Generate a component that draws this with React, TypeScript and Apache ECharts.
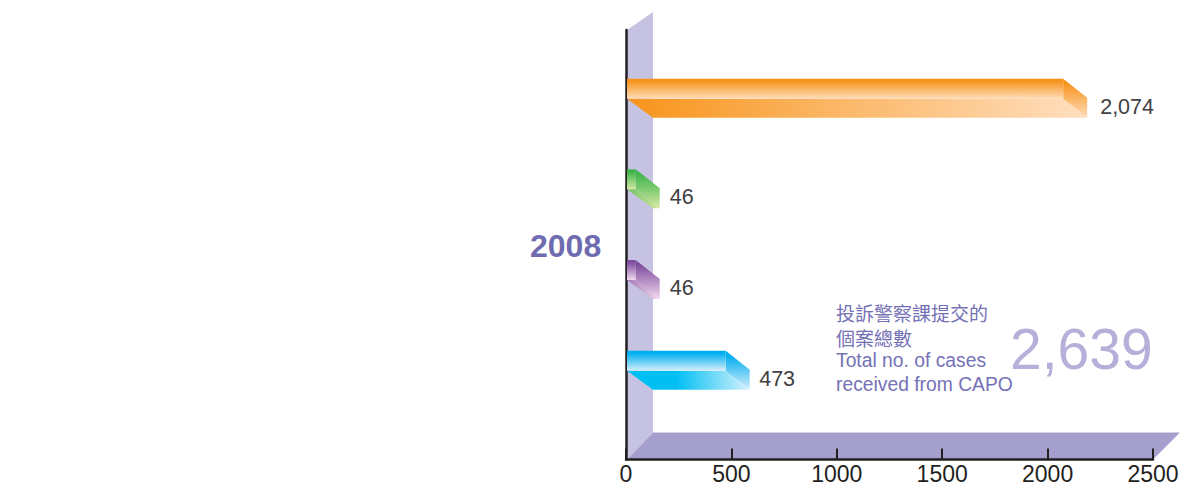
import React, { useEffect, useRef } from "react";
import * as echarts from "echarts";

// Complaint cases by channel, top to bottom
const caseChannels = ["channelA", "channelB", "channelC", "channelD"];
const caseCounts = [2074, 46, 46, 473];
const axisTicks = { min: 0, max: 2500, interval: 500 };
const yearLabel = "2008";
const totalLabel = "2,639";
const captionLines = ["投訴警察課提交的", "個案總數", "Total no. of cases", "received from CAPO"];

type Shade = { top: string; pale: string; under: string; underPale: string; hold: number; gap: number };
const shades: Shade[] = [
  { top: "#f8941d", pale: "#fedcb9", under: "#f8961f", underPale: "#ffdfbf", hold: 0.02, gap: 13 },
  { top: "#3db54a", pale: "#d6e9a6", under: "#6fc05a", underPale: "#d6e9a6", hold: 0, gap: 10 },
  { top: "#7f4c9e", pale: "#f2d9ee", under: "#a478b8", underPale: "#f2d9ee", hold: 0, gap: 10 },
  { top: "#00aeef", pale: "#d3eefb", under: "#00bff3", underPale: "#d6f1fc", hold: 0.4, gap: 9.5 },
];

const AXIS_INK = "#231f20";
const WALL = "#c6c3e2";
const FLOOR = "#a59fce";
const BODY = '"Liberation Sans", Arial, sans-serif';
const CJK = '"Noto Sans CJK TC", "Liberation Sans", sans-serif';

// Oblique offsets of the extruded look
const WALL_DX = 27;
const WALL_DY = 27;
const WALL_TOP_RISE = 18;
const BAR_DX = 24;
const BAR_DY = 19;
const FACE_H = 20;

const vertical = (a: string, b: string) =>
  new echarts.graphic.LinearGradient(0, 0, 0, 1, [
    { offset: 0, color: a },
    { offset: 0.12, color: a },
    { offset: 1, color: b },
  ]);

const horizontal = (a: string, b: string, hold: number) =>
  new echarts.graphic.LinearGradient(0, 0, 1, 0, [
    { offset: 0, color: a },
    { offset: hold, color: a },
    { offset: 1, color: b },
  ]);

const poly = (points: number[][], fill: unknown) => ({
  type: "polygon",
  shape: { points },
  style: { fill },
});

// Back wall and floor behind the bars
const renderBackdrop = (_: unknown, api: any) => {
  const [x0, y0] = api.coord([axisTicks.min, 0]);
  const [x1, y1] = api.coord([axisTicks.max, 1]);
  const left = x0 + 1;
  return {
    type: "group",
    children: [
      poly(
        [
          [left, y1],
          [x0 + WALL_DX, y1 - WALL_TOP_RISE],
          [x0 + WALL_DX, y0 - WALL_DY],
          [left, y0],
        ],
        WALL
      ),
      poly(
        [
          [left, y0],
          [x0 + WALL_DX, y0 - WALL_DY],
          [x1 + WALL_DX, y0 - WALL_DY],
          [x1, y0],
        ],
        FLOOR
      ),
    ],
  };
};

// One extruded bar: front face, underside, end cap and its value
const renderBar = (params: any, api: any) => {
  const value = api.value(0);
  const [xEnd, yMid] = api.coord([value, api.value(1)]);
  const [xBase] = api.coord([0, api.value(1)]);
  const c = shades[params.dataIndex];
  const left = xBase + 1;
  const top = yMid - FACE_H;
  return {
    type: "group",
    children: [
      poly(
        [
          [left, yMid],
          [xEnd, yMid],
          [xEnd + BAR_DX, yMid + BAR_DY],
          [xBase + WALL_DX, yMid + BAR_DY],
        ],
        horizontal(c.under, c.underPale, c.hold)
      ),
      poly(
        [
          [xEnd, top],
          [xEnd + BAR_DX, top + BAR_DY],
          [xEnd + BAR_DX, yMid + BAR_DY],
          [xEnd, yMid],
        ],
        vertical(c.top, c.pale)
      ),
      poly(
        [
          [left, top],
          [xEnd, top],
          [xEnd, yMid],
          [left, yMid],
        ],
        vertical(c.top, c.pale)
      ),
      {
        type: "text",
        style: {
          text: value.toLocaleString("en-US"),
          x: xEnd + BAR_DX + c.gap,
          y: yMid + 8,
          fill: "#414042",
          font: `21.5px ${BODY}`,
          verticalAlign: "middle",
        },
      },
    ],
  };
};

const captionText = (text: string, y: number, cjk: boolean) => ({
  type: "text",
  left: 836,
  top: y,
  style: {
    text,
    fill: "#7471b6",
    font: `${cjk ? 19 : 19.3}px ${cjk ? CJK : BODY}`,
  },
});

export default function App() {
  const ref = useRef<HTMLDivElement>(null);

  useEffect(() => {
    const chart = echarts.init(ref.current!, undefined, { renderer: "svg" });
    chart.setOption({
      animation: false,
      backgroundColor: "#ffffff",
      grid: [
        { left: 626, top: 30, width: 527, height: 429.5, outerBoundsMode: "none" },
        { left: 626, top: 53.3, width: 527, height: 362.7, outerBoundsMode: "none" },
      ],
      xAxis: [
        {
          gridIndex: 0,
          type: "value",
          ...axisTicks,
          z: 5,
          splitLine: { show: false },
          axisLine: { show: true, lineStyle: { color: AXIS_INK, width: 2.5 } },
          axisTick: { show: true, inside: true, length: 11, lineStyle: { color: AXIS_INK, width: 2 } },
          axisLabel: {
            show: true,
            margin: 2.5,
            color: AXIS_INK,
            fontFamily: BODY,
            fontSize: 23,
            hideOverlap: false,
            showMinLabel: true,
            showMaxLabel: true,
            formatter: (v: number) => String(v),
          },
        },
        {
          gridIndex: 1,
          type: "value",
          ...axisTicks,
          show: false,
        },
      ],
      yAxis: [
        {
          gridIndex: 0,
          type: "value",
          min: 0,
          max: 1,
          z: 5,
          splitLine: { show: false },
          axisLine: { show: true, onZero: false, lineStyle: { color: AXIS_INK, width: 2.5 } },
          axisTick: { show: false },
          axisLabel: { show: false },
        },
        {
          gridIndex: 1,
          type: "category",
          inverse: true,
          data: caseChannels,
          show: false,
        },
      ],
      series: [
        {
          type: "custom",
          xAxisIndex: 0,
          yAxisIndex: 0,
          z: 1,
          silent: true,
          clip: false,
          data: [[0, 0]],
          renderItem: renderBackdrop,
        },
        {
          type: "custom",
          xAxisIndex: 1,
          yAxisIndex: 1,
          z: 8,
          clip: false,
          data: caseCounts.map((v, i) => [v, i]),
          encode: { x: 0, y: 1 },
          renderItem: renderBar,
        },
      ],
      graphic: [
        {
          type: "text",
          left: 530,
          top: 230,
          style: { text: yearLabel, fill: "#6e6bb0", font: `bold 32px ${BODY}` },
        },
        captionText(captionLines[0], 303, true),
        captionText(captionLines[1], 328, true),
        captionText(captionLines[2], 351, false),
        captionText(captionLines[3], 375, false),
        {
          type: "text",
          left: 1010,
          top: 320,
          style: { text: totalLabel, fill: "#b5b0da", font: `57px ${BODY}` },
        },
      ],
    });
    return () => chart.dispose();
  }, []);

  return <div ref={ref} style={{ position: "fixed", left: 0, top: 0, width: 1181, height: 488 }} />;
}
